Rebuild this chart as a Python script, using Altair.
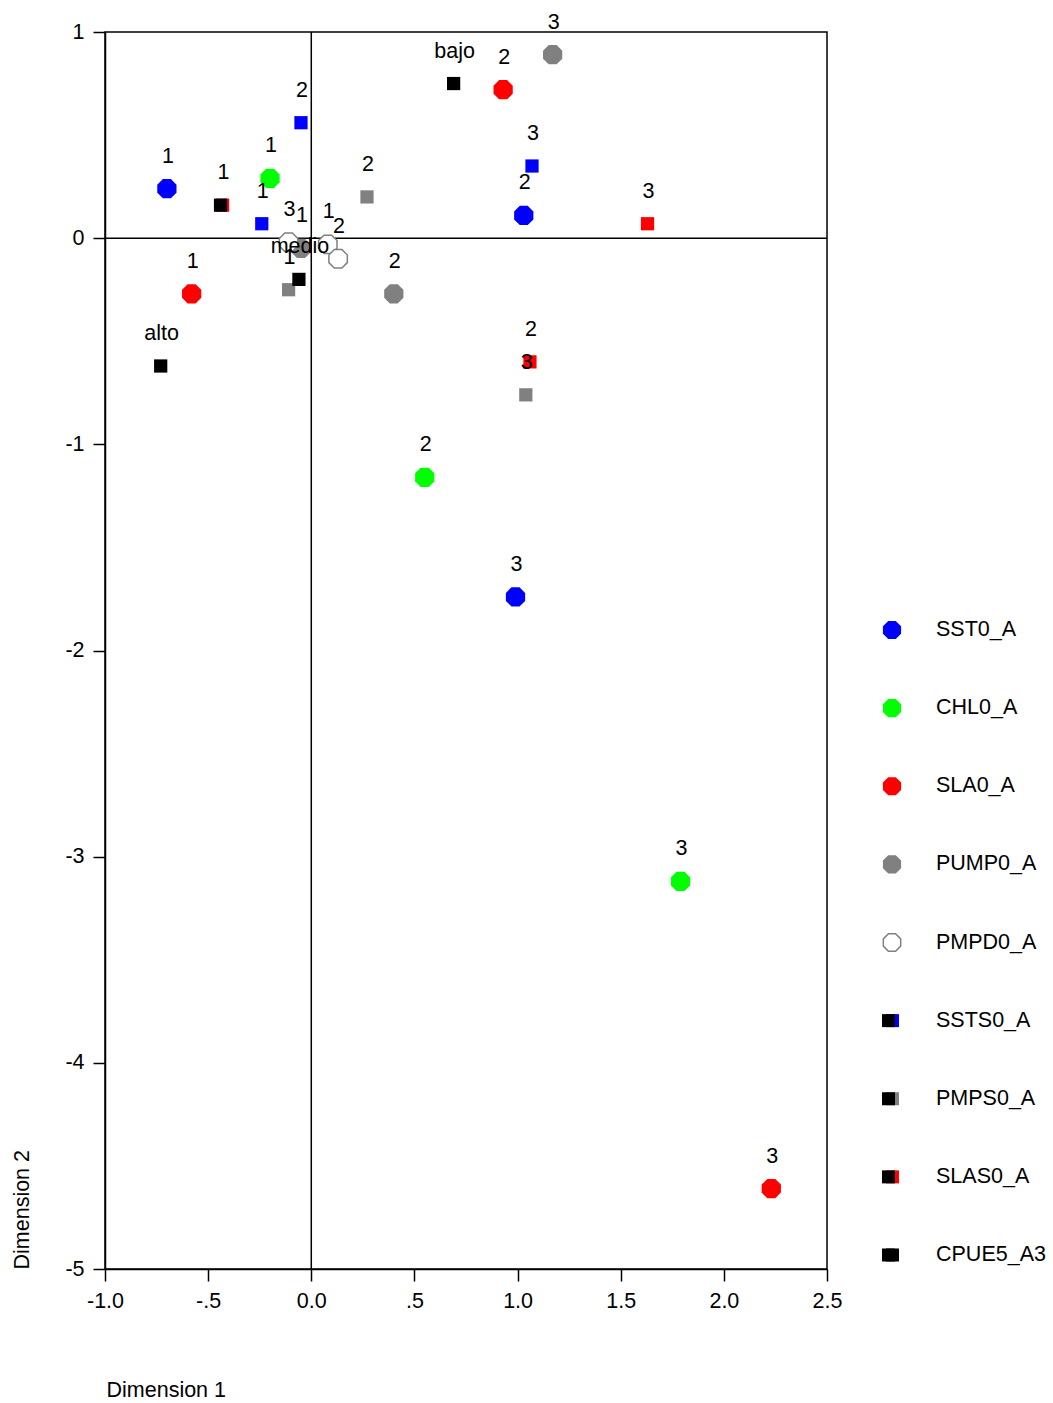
import altair as alt
import pandas as pd

# Series shown in the biplot, in legend order, with their colours
series = ["SST0_A", "CHL0_A", "SLA0_A", "PUMP0_A", "PMPD0_A",
          "SSTS0_A", "PMPS0_A", "SLAS0_A", "CPUE5_A3"]
colors = ["#0000ff", "#00ff00", "#ff0000", "#808080", "#808080",
          "#0000ff", "#808080", "#ff0000", "#000000"]

cat_labels = ["1", "2", "3"]

# Category coordinates (Dimension 1, Dimension 2)
sst0_x = [-0.70, 1.03, 0.99]
sst0_y = [0.24, 0.11, -1.74]
chl0_x = [-0.20, 0.55, 1.79]
chl0_y = [0.29, -1.16, -3.12]
sla0_x = [-0.58, 0.93, 2.23]
sla0_y = [-0.27, 0.72, -4.61]
pump0_x = [-0.05, 0.40, 1.17]
pump0_y = [-0.05, -0.27, 0.89]
pmpd0_x = [0.08, 0.13, -0.11]
pmpd0_y = [-0.03, -0.10, -0.02]
ssts0_x = [-0.24, -0.05, 1.07]
ssts0_y = [0.07, 0.56, 0.35]
pmps0_x = [-0.11, 0.27, 1.04]
pmps0_y = [-0.25, 0.20, -0.76]
slas0_x = [-0.43, 1.06, 1.63]
slas0_y = [0.16, -0.60, 0.07]
cpue_labels = ["bajo", "medio", "alto", ""]
cpue_x = [0.69, -0.06, -0.73, -0.44]
cpue_y = [0.75, -0.20, -0.62, 0.16]

x_ticks = [-1.0, -0.5, 0.0, 0.5, 1.0, 1.5, 2.0, 2.5]
y_ticks = [1, 0, -1, -2, -3, -4, -5]

coords = {
    "SST0_A": (sst0_x, sst0_y, cat_labels),
    "CHL0_A": (chl0_x, chl0_y, cat_labels),
    "SLA0_A": (sla0_x, sla0_y, cat_labels),
    "PUMP0_A": (pump0_x, pump0_y, cat_labels),
    "PMPD0_A": (pmpd0_x, pmpd0_y, cat_labels),
    "SSTS0_A": (ssts0_x, ssts0_y, cat_labels),
    "PMPS0_A": (pmps0_x, pmps0_y, cat_labels),
    "SLAS0_A": (slas0_x, slas0_y, cat_labels),
    "CPUE5_A3": (cpue_x, cpue_y, cpue_labels),
}
kind = {s: "filled" for s in ["SST0_A", "CHL0_A", "SLA0_A", "PUMP0_A"]}
kind["PMPD0_A"] = "open"
kind.update({s: "square" for s in ["SSTS0_A", "PMPS0_A", "SLAS0_A", "CPUE5_A3"]})

rows = []
for s in series:
    xs, ys, labs = coords[s]
    for xv, yv, lab in zip(xs, ys, labs):
        rows.append({"series": s, "kind": kind[s], "label": lab, "d1": xv, "d2": yv})
df = pd.DataFrame(rows)

OCT = "M-0.414,-1L0.414,-1L1,-0.414L1,0.414L0.414,1L-0.414,1L-1,0.414L-1,-0.414Z"
FONT = "Liberation Sans"
FS = 21.5
W, H = 722, 1237
MINUS = "\u2212"

x_label_expr = (
    "datum.value == 0 ? '0.0' : (abs(datum.value) < 1 ? "
    f"replace(replace(format(datum.value, '.1f'), '{MINUS}', '-'), '0.', '.') : "
    f"replace(format(datum.value, '.1f'), '{MINUS}', '-'))"
)
y_label_expr = f"replace(format(datum.value, 'd'), '{MINUS}', '-')"

color_scale = alt.Scale(domain=series, range=colors)
xs_ = alt.X("d1:Q", scale=alt.Scale(domain=[-1, 2.5], nice=False, zero=False),
            axis=alt.Axis(values=x_ticks, title="Dimension 1", labelExpr=x_label_expr,
                          titleX=1, titleY=121, titleAlign="left", titleBaseline="middle"))
ys_ = alt.Y("d2:Q", scale=alt.Scale(domain=[-5, 1], nice=False, zero=False),
            axis=alt.Axis(values=y_ticks, labelExpr=y_label_expr, title="Dimension 2",
                          titleAngle=-90, titleX=-83, titleY=H, titleAlign="left",
                          titleBaseline="middle"))

base = alt.Chart(df)

vline = alt.Chart(pd.DataFrame({"d1": [0]})).mark_rule(color="black", strokeWidth=1.5).encode(x="d1:Q")
hline = alt.Chart(pd.DataFrame({"d2": [0]})).mark_rule(color="black", strokeWidth=1.5).encode(y="d2:Q")

filled = base.transform_filter(alt.datum.kind == "filled").mark_point(
    shape=OCT, filled=True, size=370, opacity=1
).encode(x=xs_, y=ys_, color=alt.Color("series:N", scale=color_scale, legend=None))

open_pts = base.transform_filter(alt.datum.kind == "open").mark_point(
    shape=OCT, filled=True, fill="white", stroke="#808080", strokeWidth=1.5,
    size=340, opacity=1
).encode(x="d1:Q", y="d2:Q")

squares = base.transform_filter(alt.datum.kind == "square").mark_square(
    size=175, opacity=1
).encode(x="d1:Q", y="d2:Q", color=alt.Color("series:N", scale=color_scale, legend=None))

labels = base.mark_text(dy=-32, dx=1, fontSize=FS, font=FONT, color="black",
                        baseline="middle").encode(x="d1:Q", y="d2:Q", text="label:N")

main = alt.layer(vline, hline, filled, open_pts, squares, labels).properties(width=W, height=H)

# Legend panel
leg = pd.DataFrame({"series": series, "idx": list(range(len(series))),
                    "kind": [kind[s] for s in series]})
ly = alt.Y("idx:Q", scale=alt.Scale(domain=[0, 8], range=[598, 1223]), axis=None)
lbase = alt.Chart(leg)
l_filled = lbase.transform_filter(alt.datum.kind == "filled").mark_point(
    shape=OCT, filled=True, size=330, opacity=1
).encode(x=alt.value(10), y=ly, color=alt.Color("series:N", scale=color_scale, legend=None))
l_open = lbase.transform_filter(alt.datum.kind == "open").mark_point(
    shape=OCT, filled=True, fill="white", stroke="#808080", strokeWidth=1.5,
    size=300, opacity=1
).encode(x=alt.value(10), y=ly)
l_sq_col = lbase.transform_filter(alt.datum.kind == "square").mark_square(
    size=169, opacity=1
).encode(x=alt.value(10.5), y=ly, color=alt.Color("series:N", scale=color_scale, legend=None))
l_sq_blk = lbase.transform_filter(alt.datum.kind == "square").mark_square(
    size=169, opacity=1, color="black"
).encode(x=alt.value(6.5), y=ly)
l_text = lbase.mark_text(align="left", baseline="middle", fontSize=FS, font=FONT,
                         color="black").encode(x=alt.value(54), y=ly, text="series:N")

legend = alt.layer(l_filled, l_open, l_sq_col, l_sq_blk, l_text).properties(
    width=150, height=H, view=alt.ViewBackground(strokeOpacity=0)
)

chart = alt.hconcat(main, legend, spacing=37).properties(
    padding={"left": 10, "top": 10, "right": 2, "bottom": 2},
    background="white",
).configure_view(
    stroke="black", strokeWidth=1.5
).configure_axis(
    grid=False, domainColor="black", domainWidth=1.5, tickColor="black",
    tickWidth=1.5, tickSize=12, labelPadding=9, labelFont=FONT,
    labelFontSize=FS, labelColor="black", labelFlush=False, labelOverlap=False,
    titleFont=FONT, titleFontSize=FS, titleFontWeight="normal", titleColor="black"
)

chart.save("out.html", embed_options={"renderer": "svg", "actions": False})
